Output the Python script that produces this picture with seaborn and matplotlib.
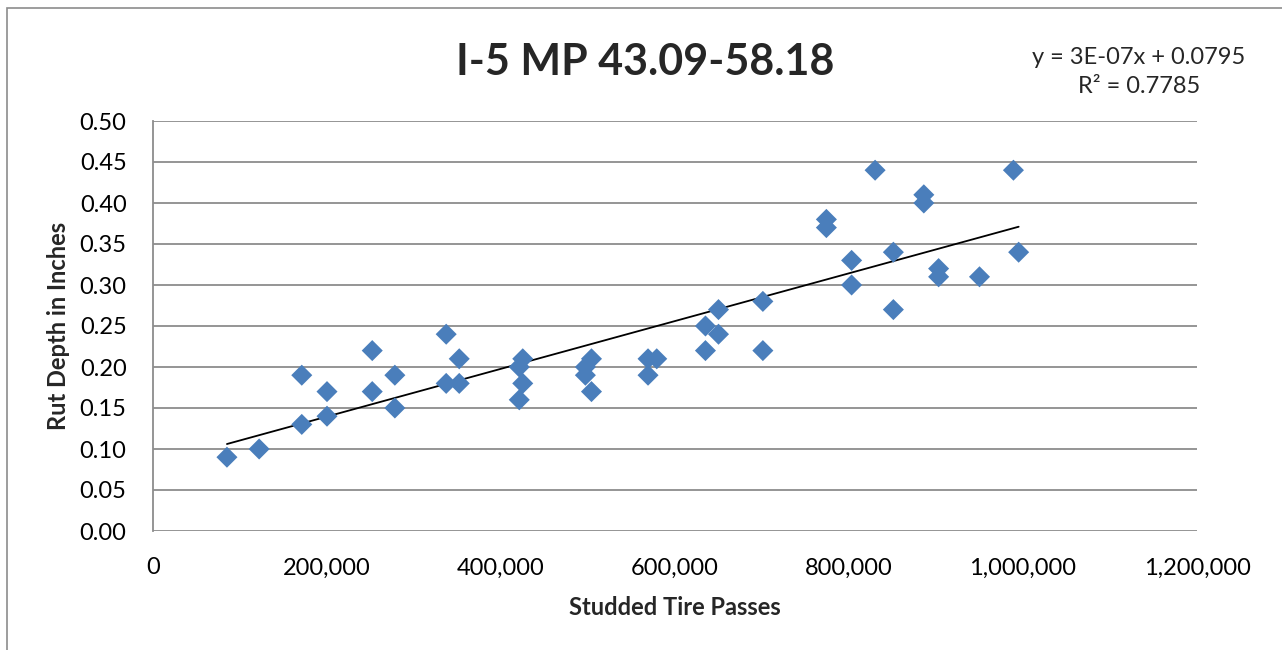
import numpy as np
import pandas as pd
import matplotlib
matplotlib.use("Agg")
import matplotlib.pyplot as plt
from matplotlib.patches import Rectangle
from matplotlib.ticker import FuncFormatter, MultipleLocator
import seaborn as sns

# Studded tire passes vs. measured rut depth, I-5 MP 43.09-58.18
passes = [85000, 122000, 171000, 171000, 200000, 200000, 252000, 252000,
          278000, 278000, 337000, 337000, 352000, 352000, 421000, 421000,
          425000, 425000, 497000, 497000, 504000, 504000, 569000, 569000,
          579000, 635000, 635000, 650000, 650000, 701000, 701000, 774000,
          774000, 803000, 803000, 830000, 851000, 851000, 886000, 886000,
          903000, 903000, 950000, 989000, 995000]
rut_depth = [0.09, 0.10, 0.19, 0.13, 0.17, 0.14, 0.22, 0.17,
             0.19, 0.15, 0.24, 0.18, 0.21, 0.18, 0.16, 0.20,
             0.21, 0.18, 0.20, 0.19, 0.21, 0.17, 0.21, 0.19,
             0.21, 0.25, 0.22, 0.27, 0.24, 0.28, 0.22, 0.38,
             0.37, 0.33, 0.30, 0.44, 0.34, 0.27, 0.41, 0.40,
             0.32, 0.31, 0.31, 0.44, 0.34]

title = "I-5 MP 43.09-58.18"
x_label = "Studded Tire Passes"
y_label = "Rut Depth in Inches"
equation = "y = 3E-07x + 0.0795\nR² = 0.7785"

df = pd.DataFrame({"passes": passes, "rut": rut_depth})

sns.set_style("white")
plt.rcParams["font.family"] = ["Lato", "DejaVu Sans"]

fig = plt.figure(figsize=(12.82, 6.5), dpi=100)
ax = fig.add_axes([153 / 1282, 1 - 531 / 650, (1197 - 153) / 1282, (531 - 121) / 650])

# outer chart frame
fig.patches.append(Rectangle((7 / 1282, -0.05), 1.1, (650 - 8) / 650 + 0.05,
                             transform=fig.transFigure, fill=False,
                             edgecolor="#8c8c8c", linewidth=1.2))

sns.scatterplot(data=df, x="passes", y="rut", marker="D", s=115,
                color="#4a7ebb", edgecolor="none", ax=ax, zorder=3)
sns.regplot(data=df, x="passes", y="rut", scatter=False, ci=None,
            truncate=True, color="black", line_kws={"linewidth": 1.3}, ax=ax)

ax.set_xlim(0, 1200000)
ax.set_ylim(0, 0.5)
ax.xaxis.set_major_locator(MultipleLocator(200000))
ax.yaxis.set_major_locator(MultipleLocator(0.05))
ax.xaxis.set_major_formatter(FuncFormatter(lambda v, p: f"{int(v):,}"))
ax.yaxis.set_major_formatter(FuncFormatter(lambda v, p: f"{v:.2f}"))

ax.grid(axis="y", color="#8c8c8c", linewidth=1.3)
ax.set_axisbelow(True)
for side in ("top", "right", "bottom"):
    ax.spines[side].set_visible(False)
ax.spines["left"].set_color("#8c8c8c")
ax.spines["left"].set_linewidth(1.3)
ax.tick_params(axis="both", length=0, labelsize=17, colors="black")
ax.tick_params(axis="y", pad=19)
ax.tick_params(axis="x", pad=19)

ax.set_xlabel(x_label, fontsize=17, fontweight="bold", labelpad=13)
ax.set_ylabel(y_label, fontsize=17, fontweight="bold", labelpad=7)

fig.text(645 / 1282, 1 - 62 / 650, title, fontsize=31, fontweight="bold",
         ha="center", va="center")
fig.text(1139 / 1282, 1 - 72 / 650, equation, fontsize=17, ha="center",
         va="center", multialignment="center", linespacing=1.5)

fig.savefig("out.png", dpi=100)
